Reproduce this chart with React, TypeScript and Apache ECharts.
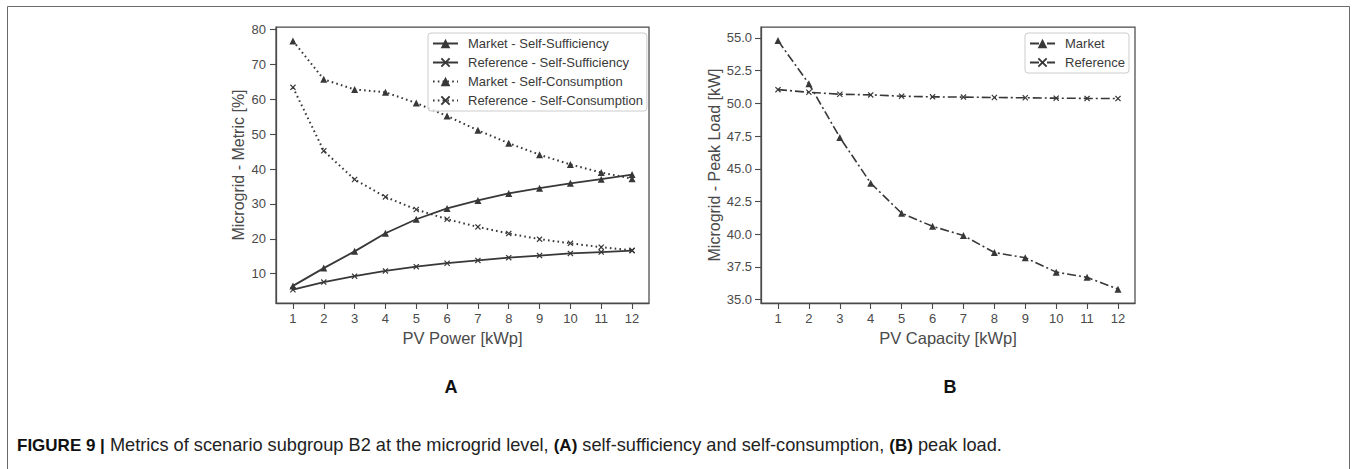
import React, { useEffect, useRef } from "react";
import * as echarts from "echarts";

const pvPower = [1, 2, 3, 4, 5, 6, 7, 8, 9, 10, 11, 12];
const marketSelfSufficiency = [6.5, 11.6, 16.4, 21.6, 25.6, 28.7, 31.0, 33.0, 34.5, 35.9, 37.1, 38.4];
const referenceSelfSufficiency = [5.4, 7.6, 9.3, 10.8, 12.0, 13.0, 13.8, 14.6, 15.2, 15.8, 16.2, 16.6];
const marketSelfConsumption = [76.7, 65.7, 62.8, 62.0, 58.9, 55.2, 51.1, 47.4, 44.1, 41.3, 39.0, 37.2];
const referenceSelfConsumption = [63.4, 45.2, 37.0, 32.0, 28.4, 25.6, 23.4, 21.5, 19.9, 18.7, 17.6, 16.7];
const marketPeakLoad = [54.8, 51.5, 47.4, 43.9, 41.6, 40.6, 39.9, 38.6, 38.2, 37.1, 36.7, 35.8];
const referencePeakLoad = [51.05, 50.85, 50.7, 50.65, 50.55, 50.5, 50.48, 50.45, 50.43, 50.4, 50.38, 50.37];
const metricTicks = [10, 20, 30, 40, 50, 60, 70, 80];
const peakTicks = [35, 37.5, 40, 42.5, 45, 47.5, 50, 52.5, 55];

const FONT = '"Liberation Sans", Arial, Helvetica, sans-serif';
const LINE = "#383838";
const SPINE = "#4a4a4a";
const TEXT = "#4a4a4a";
const XMARK = "path://M0,1.4 L1.4,0 L5,3.6 L8.6,0 L10,1.4 L6.4,5 L10,8.6 L8.6,10 L5,6.4 L1.4,10 L0,8.6 L3.6,5 Z";

const pairs = (ys: number[]) => pvPower.map((x, i) => [x, ys[i]]);

function xAxis(gridIndex: number, name: string) {
  return {
    type: "value",
    gridIndex,
    min: 0.45,
    max: 12.55,
    name,
    nameLocation: "middle",
    nameGap: 25,
    nameTextStyle: { fontSize: 16.5, color: TEXT, fontFamily: FONT },
    axisLine: { show: true, onZero: false, lineStyle: { color: SPINE, width: 1.25 } },
    axisTick: { show: true, customValues: pvPower, length: 6, lineStyle: { color: SPINE, width: 1.1 } },
    axisLabel: { customValues: pvPower, margin: 9, fontSize: 13, color: TEXT, fontFamily: FONT },
    splitLine: { show: false },
  };
}

const legendBase = {
  orient: "vertical",
  top: 33,
  itemWidth: 25,
  itemHeight: 12,
  itemGap: 6,
  padding: [4, 4, 4, 4],
  borderColor: "#cccccc",
  borderWidth: 1,
  borderRadius: 3,
  backgroundColor: "rgba(255,255,255,0.8)",
  textStyle: { fontSize: 13, color: "#3a3a3a", fontFamily: FONT, padding: [0, 0, 0, 5] },
};

export default function App() {
  const ref = useRef<HTMLDivElement>(null);
  useEffect(() => {
    document.body.style.margin = "0";
    const chart = echarts.init(ref.current!, null, { renderer: "svg" });
    const solid = { color: LINE, width: 1.8 };
    const dotted = { color: LINE, width: 2, type: [1.6, 3.2] };
    const dashDot = { color: LINE, width: 1.6, type: [9, 3, 2, 3] };
    const tri = { symbol: "triangle", symbolSize: 7 };
    const xs = { symbol: XMARK, symbolSize: 6 };
    const item = { color: LINE };
    chart.setOption({
      animation: false,
      textStyle: { fontFamily: FONT },
      grid: [
        { left: 276, top: 27, width: 373, height: 276, show: true, borderColor: SPINE, borderWidth: 1.25, backgroundColor: "transparent" },
        { left: 761, top: 27, width: 374, height: 276, show: true, borderColor: SPINE, borderWidth: 1.25, backgroundColor: "transparent" },
      ],
      xAxis: [xAxis(0, "PV Power [kWp]"), xAxis(1, "PV Capacity [kWp]")],
      yAxis: [
        {
          type: "value",
          gridIndex: 0,
          min: 1.6,
          max: 80.7,
          name: "Microgrid - Metric [%]",
          nameLocation: "middle",
          nameGap: 30,
          nameTextStyle: { fontSize: 16, color: TEXT, fontFamily: FONT },
          axisLine: { show: true, lineStyle: { color: SPINE, width: 1.25 } },
          axisTick: { show: true, customValues: metricTicks, length: 6, lineStyle: { color: SPINE, width: 1.1 } },
          axisLabel: { customValues: metricTicks, margin: 10, fontSize: 13, color: TEXT, fontFamily: FONT },
          splitLine: { show: false },
        },
        {
          type: "value",
          gridIndex: 1,
          min: 34.74,
          max: 55.84,
          name: "Microgrid - Peak Load [kW]",
          nameLocation: "middle",
          nameGap: 35,
          nameTextStyle: { fontSize: 16, color: TEXT, fontFamily: FONT },
          axisLine: { show: true, lineStyle: { color: SPINE, width: 1.25 } },
          axisTick: { show: true, customValues: peakTicks, length: 6, lineStyle: { color: SPINE, width: 1.1 } },
          axisLabel: {
            customValues: peakTicks,
            margin: 9,
            fontSize: 13,
            color: TEXT,
            fontFamily: FONT,
            formatter: (v: number) => v.toFixed(1),
          },
          splitLine: { show: false },
        },
      ],
      legend: [
        {
          ...legendBase,
          left: 428,
          data: [
            "Market - Self-Sufficiency",
            "Reference - Self-Sufficiency",
            "Market - Self-Consumption",
            "Reference - Self-Consumption",
          ],
        },
        {
          ...legendBase,
          left: 1025,
          data: ["Market", "Reference"],
        },
      ],
      series: [
        { name: "Market - Self-Sufficiency", type: "line", xAxisIndex: 0, yAxisIndex: 0, data: pairs(marketSelfSufficiency), lineStyle: solid, itemStyle: item, ...tri },
        { name: "Reference - Self-Sufficiency", type: "line", xAxisIndex: 0, yAxisIndex: 0, data: pairs(referenceSelfSufficiency), lineStyle: solid, itemStyle: item, ...xs },
        { name: "Market - Self-Consumption", type: "line", xAxisIndex: 0, yAxisIndex: 0, data: pairs(marketSelfConsumption), lineStyle: dotted, itemStyle: item, ...tri },
        { name: "Reference - Self-Consumption", type: "line", xAxisIndex: 0, yAxisIndex: 0, data: pairs(referenceSelfConsumption), lineStyle: dotted, itemStyle: item, ...xs },
        { name: "Market", type: "line", xAxisIndex: 1, yAxisIndex: 1, data: pairs(marketPeakLoad), lineStyle: dashDot, itemStyle: item, ...tri },
        { name: "Reference", type: "line", xAxisIndex: 1, yAxisIndex: 1, data: pairs(referencePeakLoad), lineStyle: dashDot, itemStyle: item, ...xs },
      ],
      graphic: [
        {
          type: "rect",
          shape: { x: 7.5, y: 6.5, width: 1342, height: 480 },
          style: { fill: "none", stroke: "#6a6a6a", lineWidth: 1 },
          silent: true,
        },
        {
          type: "text",
          x: 451,
          y: 387,
          style: { text: "A", fontSize: 18, fontWeight: "bold", fill: "#111", fontFamily: FONT, align: "center", verticalAlign: "middle" },
        },
        {
          type: "text",
          x: 950,
          y: 387,
          style: { text: "B", fontSize: 18, fontWeight: "bold", fill: "#111", fontFamily: FONT, align: "center", verticalAlign: "middle" },
        },
        {
          type: "text",
          x: 17,
          y: 445,
          style: {
            text: "{b|FIGURE 9 |} Metrics of scenario subgroup B2 at the microgrid level, {b|(A)} self-sufficiency and self-consumption, {b|(B)} peak load.",
            fontSize: 18.2,
            fill: "#222",
            fontFamily: FONT,
            verticalAlign: "middle",
            rich: { b: { fontWeight: "bold", fontSize: 17, fill: "#111", fontFamily: FONT } },
          },
        },
      ],
    });
    return () => chart.dispose();
  }, []);
  return <div ref={ref} style={{ position: "absolute", left: 0, top: 0, width: 1357, height: 469 }} />;
}
